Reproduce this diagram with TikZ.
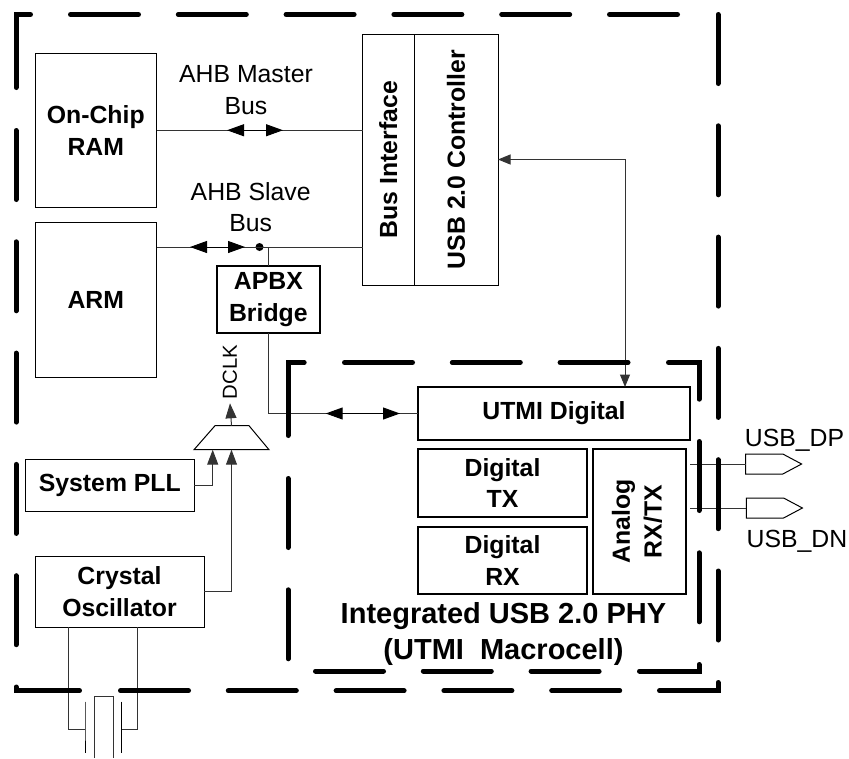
\documentclass[tikz,border=0pt]{standalone}
\usepackage{fontspec}
\setmainfont{Liberation Sans}
\usetikzlibrary{arrows.meta, calc, positioning, shapes.geometric, shapes.symbols}

\begin{document}
\begin{tikzpicture}[
            x=1pt, y=-1pt,
            box/.style={draw, line width=1pt, inner sep=0pt, outer sep=0pt, align=center, font=\bfseries\fontsize{24.8}{31.7}\selectfont},
            heavybox/.style={box, line width=1.8pt},
            label text/.style={inner sep=0pt, align=center, font=\fontsize{24.8}{31.7}\selectfont},
            wire/.style={black!80, line width=1pt},
            busarrow/.style={black, line width=1pt, {Triangle[length=17pt, width=12pt]}-{Triangle[length=17pt, width=12pt]}},
            sigarrow/.style={black!80, line width=1pt, -{Triangle[length=15pt, width=11pt]}},
            ctrlarrow/.style={black!80, line width=1pt, {Triangle[length=12.5pt, width=10pt]}-{Triangle[length=12.5pt, width=10pt]}},
            pad/.style={draw, line width=1pt, signal, signal to=east, signal pointer angle=56, inner sep=0pt, outer sep=0pt, minimum width=56pt, minimum height=20pt},
            frame/.style={line width=5pt, line cap=round, line join=miter},
            framedash/.style={frame, dash pattern=on 68pt off 39.8pt},
            framedashv/.style={frame, dash pattern=on 69pt off 42.3pt}
        ]
            \useasboundingbox (0,0) rectangle (849,758);

            % Blocks on the left
            \node[box, minimum width=121.5pt, minimum height=154.5pt] (ram) at (95.75,130.25) {On-Chip\\RAM};
            \node[box, minimum width=121.5pt, minimum height=155pt, below=14.5pt of ram] (arm) {ARM};
            \node[box, minimum width=168.3pt, minimum height=52pt] (pll) at (109.85,485) {System PLL};
            \node[box, minimum width=169pt, minimum height=71pt] (osc) at (119.5,591.5) {Crystal\\Oscillator};
            \node[heavybox, minimum width=103.3pt, minimum height=67.3pt] (bridge) at (268.35,299.35) {APBX\\Bridge};
            \node[inner sep=0pt, outer sep=0pt, minimum width=75pt, minimum height=24pt] (mux) at (231.5,437.7) {};
            \draw[line width=1pt] (mux.south west) -- ($(mux.north west)+(21,0)$) -- ($(mux.north east)+(-20,0)$) -- (mux.south east) -- cycle;

            % Controller
            \node[box, minimum width=51.5pt, minimum height=251pt] (busif) at (388.25,159.5) {\rotatebox{90}{Bus Interface}};
            \node[box, minimum width=84pt, minimum height=251pt, right=0pt of busif] (ctrl) {\rotatebox{90}{USB 2.0 Controller}};

            % PHY
            \node[heavybox, minimum width=272pt, minimum height=53pt] (utmi) at (554,413.5) {UTMI Digital};
            \node[heavybox, minimum width=169pt, minimum height=68pt, below=9pt of utmi.south west, anchor=north west] (tx) {Digital\\TX};
            \node[heavybox, minimum width=169pt, minimum height=67pt, below=10pt of tx] (rx) {Digital\\RX};
            \node[heavybox, minimum width=93pt, minimum height=145pt, right=6pt of tx.north east, anchor=north west] (analog) {\rotatebox{90}{\begin{tabular}{@{}c@{}}Analog\\RX/TX\end{tabular}}};
            \node[inner sep=0pt, align=center, font=\bfseries\fontsize{29}{36.7}\selectfont] (phy) at (503.5,634) {Integrated USB 2.0 PHY\\(UTMI\ \ Macrocell)};

            % Pads
            \node[pad] (dp) at (764.2,464) {};
            \node[pad] (dn) at (765,508) {};
            \node[label text] (dplabel) at (794.5,440.5) {USB\_DP};
            \node[label text] (dnlabel) at (797,541) {USB\_DN};

            % Bus labels
            \node[label text] (masterlabel) at (246,90) {AHB Master\\Bus};
            \node[label text] (slavelabel) at (250.7,207) {AHB Slave\\Bus};
            \node[label text, inner sep=4pt, font=\fontsize{20.3}{24}\selectfont] (dclk) at (230,372) {\rotatebox{90}{DCLK}};

            % Connection points
            \node[circle, fill, inner sep=0pt, minimum size=8pt] (tap) at (259.5,247) {};
            \coordinate (slavein) at ($(arm.north east)+(0,25)$);
            \coordinate (mastera) at (227,130.25);
            \coordinate (masterb) at (283,130.25);
            \coordinate (slavea) at (190,247);
            \coordinate (slaveb) at (245,247);
            \coordinate (phya) at (325.7,413.5);
            \coordinate (phyb) at (400,413.5);
            \coordinate (utmitop) at ($(utmi.north)+(71,0)$);
            \coordinate (muxa) at ($(mux.south)+(-18.8,0)$);
            \coordinate (muxb) at (mux.south);
            \coordinate (osca) at ($(osc.south)+(-50.8,0)$);
            \coordinate (oscb) at ($(osc.south)+(18.2,0)$);
            \coordinate (platel) at (85,729);
            \coordinate (plater) at (121.7,729);

            % Connections
            \draw[wire] (ram.east) -- (ram.east -| busif.west);
            \draw[busarrow] (mastera) -- (masterb);
            \draw[wire] (slavein) -- (slavein -| busif.west);
            \draw[busarrow] (slavea) -- (slaveb);
            \draw[wire] (bridge.north) -- (bridge.north |- tap);
            \draw[wire] (bridge.south) |- (utmi.west);
            \draw[busarrow] (phya) -- (phyb);
            \draw[ctrlarrow] (ctrl.east) -| (utmitop);
            \draw[sigarrow] (mux.north) -- (dclk.south);
            \draw[sigarrow] (pll.east) -| (muxa);
            \draw[sigarrow] (osc.east) -| (muxb);
            \draw[wire, shorten <=4pt] (analog.east |- dp.west) -- (dp.west);
            \draw[wire, shorten <=4pt] (analog.east |- dn.west) -- (dn.west);

            % Crystal
            \draw[wire] (osca) |- (platel);
            \draw[wire] (oscb) |- (plater);
            \draw[line width=1pt] (85,701.7) -- (platel) -- (85,752.7);
            \draw[line width=1pt] (121.7,701.7) -- (plater) -- (121.7,752.7);
            \draw[wire] (94,758) -- (94,696) -- (113,696) -- (113,758);

            % Outer boundary
            \draw[frame] (16,87.5) -- (16,14.5) -- (30.5,14.5);
            \draw[framedash] (70.5,14.5) -- (680,14.5);
            \draw[framedashv] (16,130.5) -- (16,645);
            \draw[framedashv] (718,14.5) -- (718,642);
            \draw[frame] (16,687) -- (16,690.7) -- (79.5,690.7);
            \draw[framedash] (120.5,690.7) -- (620,690.7);
            \draw[frame] (659.5,690.7) -- (718,690.7) -- (718,682.5);

            % Inner boundary
            \draw[frame] (288,435.5) -- (288,362.5) -- (304.2,362.5);
            \draw[framedash] (344.5,362.5) -- (628,362.5);
            \draw[frame] (668.5,362.5) -- (699,362.5) -- (699,399.2);
            \draw[framedashv] (288,478.5) -- (288,660);
            \draw[framedashv] (699,441.5) -- (699,623);
            \draw[framedash] (315.5,671) -- (600,671);
            \draw[frame] (639.5,671) -- (699,671) -- (699,664.5);
        \end{tikzpicture}
\end{document}
